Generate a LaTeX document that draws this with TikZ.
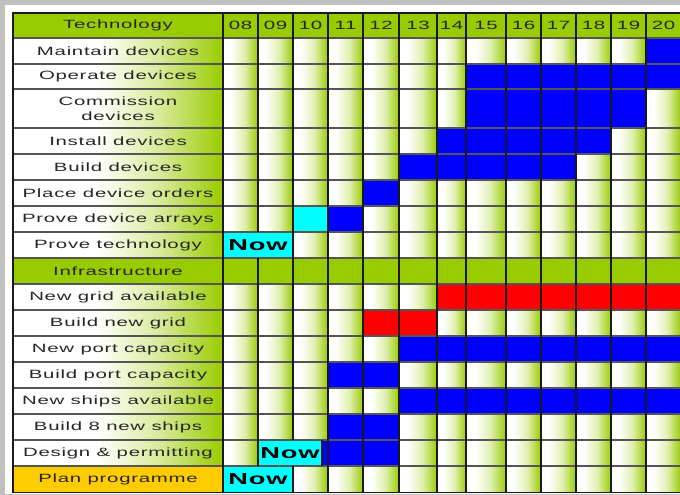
\documentclass[tikz,border=0pt]{standalone}
\usepackage{fontspec}
\usepackage{tikz}
\newfontfamily\chartfont[FakeStretch=1.7,LetterSpace=6]{Liberation Sans}
\definecolor{limegreen}{RGB}{153,204,0}
\definecolor{planyellow}{RGB}{255,204,0}
\definecolor{nowcyan}{RGB}{0,255,255}
\definecolor{barblue}{RGB}{0,0,255}
\definecolor{barred}{RGB}{255,0,0}
\definecolor{framegray}{RGB}{192,192,192}
\definecolor{rowline}{RGB}{85,85,85}
\definecolor{colline}{RGB}{25,25,25}
\pgfdeclarehorizontalshading{cellfade}{100bp}{color(0bp)=(white); color(36bp)=(white);
  color(56bp)=(white!68!limegreen); color(75bp)=(limegreen); color(100bp)=(limegreen)}
\pgfdeclarehorizontalshading{labelfade}{100bp}{color(0bp)=(white); color(45bp)=(white);
  color(60bp)=(white!60!limegreen); color(75bp)=(limegreen); color(100bp)=(limegreen)}

\begin{document}
\begin{tikzpicture}[x=1pt, y=-1pt, font=\chartfont\fontsize{12}{15.5}\selectfont,
  rowlabel/.style={text=black!85, inner sep=0pt, align=center},
  nowbox/.style={font=\chartfont\fontsize{16}{16}\selectfont\bfseries, inner sep=0pt}]
  \clip (0,0) rectangle (680,495);
  \fill[framegray] (0,0) rectangle (680,495);
  \fill[white] (5,5) rectangle (680,493.5);

  % header rows
  \fill[limegreen] (13,13) rectangle (680,38);
  \node[rowlabel] (technology) at (118,25.5) {Technology};
  \foreach \xa/\xb/\yr in {223/258/08, 258/293/09, 293/328/10, 328/363/11, 363/399/12,
      399/437/13, 437/466/14, 466/506/15, 506/541/16, 541/576/17, 576/611/18, 611/646/19, 646/681/20}
    \node[rowlabel] (y\yr) at ({(\xa+\xb)/2},25.5) {\yr};
  \fill[limegreen] (13,258) rectangle (680,284);
  \node[rowlabel] (infrastructure) at (118,271) {Infrastructure};

  % task rows with faded cells
  \foreach \ya/\yb in {38/64, 64/89, 89/128, 128/154, 154/180, 180/206, 206/232, 232/258,
      284/310, 310/336, 336/362, 362/388, 388/414, 414/440, 440/466, 466/492}{
    \shade[shading=labelfade] (13,\ya) rectangle (223,\yb);
    \foreach \xa/\xb in {223/258, 258/293, 293/328, 328/363, 363/399, 399/437,
        437/466, 466/506, 506/541, 541/576, 576/611, 611/646, 646/681}
      \shade[shading=cellfade] (\xa,\ya) rectangle (\xb,\yb);
  }

  % technology bars
  \fill[barblue] (646,38) rectangle (681,64);
  \fill[barblue] (466,64) rectangle (681,89);
  \fill[barblue] (466,89) rectangle (646,128);
  \fill[barblue] (437,128) rectangle (611,154);
  \fill[barblue] (399,154) rectangle (576,180);
  \fill[barblue] (363,180) rectangle (399,206);
  \fill[nowcyan] (293,206) rectangle (328,232);
  \fill[barblue] (328,206) rectangle (363,232);
  \fill[nowcyan] (223,232) rectangle (293,258);

  % infrastructure bars
  \fill[barred] (437,284) rectangle (681,310);
  \fill[barred] (363,310) rectangle (437,336);
  \fill[barblue] (399,336) rectangle (681,362);
  \fill[barblue] (328,362) rectangle (399,388);
  \fill[barblue] (399,388) rectangle (681,414);
  \fill[barblue] (328,414) rectangle (399,440);
  \fill[nowcyan] (258,440) rectangle (322,466);
  \fill[barblue] (322,440) rectangle (399,466);
  \fill[planyellow] (13,466) rectangle (223,492);
  \fill[nowcyan] (223,466) rectangle (293,492);

  % grid
  \foreach \y in {38,64,89,128,154,180,206,232,258,284,310,336,362,388,414,440,466}
    \draw[rowline, line width=1.4pt] (13,\y) -- (681,\y);
  \foreach \x in {223,328,363,399,437,466,506,541,576,611,646}
    \draw[colline, line width=1.4pt] (\x,13) -- (\x,492);
  \draw[colline, line width=1.4pt] (258,13) -- (258,232) (258,258) -- (258,466);
  \draw[colline, line width=1.4pt] (293,13) -- (293,440) (293,466) -- (293,492);
  \draw[colline, line width=1.4pt] (322,440) -- (322,466);
  \draw[colline, line width=1.8pt] (681,13) -- (13,13) -- (13,492.5) -- (681,492.5);

  % row labels
  \foreach \ya/\yb/\rowname/\rowtext in {38/64/maintain/Maintain devices,
      64/89/operate/Operate devices, 89/128/commission/{Commission\\devices},
      128/154/install/Install devices, 154/180/builddev/Build devices,
      180/206/orders/Place device orders, 206/232/arrays/Prove device arrays,
      232/258/provetech/Prove technology, 284/310/newgrid/New grid available,
      310/336/buildgrid/Build new grid, 336/362/newport/New port capacity,
      362/388/buildport/Build port capacity, 388/414/newships/New ships available,
      414/440/buildships/Build 8 new ships, 440/466/design/Design \& permitting,
      466/492/plan/Plan programme}
    \node[rowlabel] (\rowname) at (118,{(\ya+\yb)/2}) {\rowtext};

  \node[nowbox] (nowtech) at (258,245.5) {Now};
  \node[nowbox] (nowdesign) at (290,453.5) {Now};
  \node[nowbox] (nowplan) at (258,479.5) {Now};
\end{tikzpicture}
\end{document}
